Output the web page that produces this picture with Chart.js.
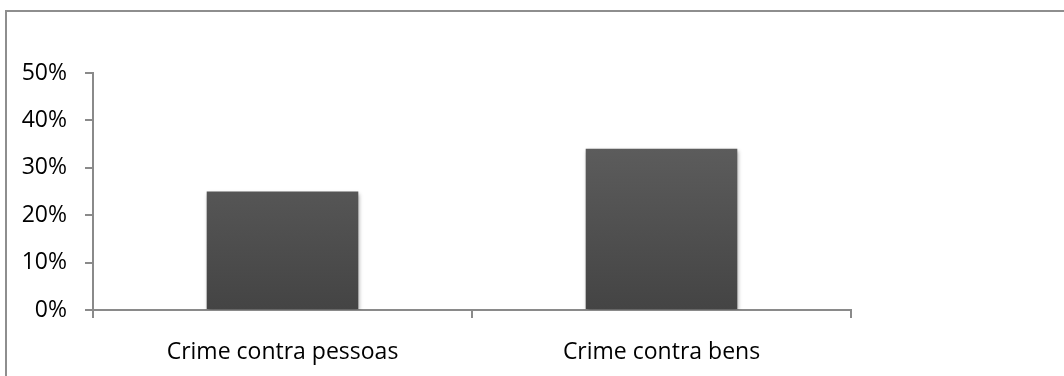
<!DOCTYPE html>
<html>
<head>
<meta charset="utf-8">
<script src="https://cdn.jsdelivr.net/npm/chart.js@4.4.1/dist/chart.umd.min.js"></script>
<style>
  html, body { margin: 0; padding: 0; background: #ffffff; overflow: hidden; }
  #wrap { position: relative; width: 1064px; height: 376px; }
  #frame {
    position: absolute; left: 5px; top: 10px; width: 1200px; height: 500px;
    border-left: 2px solid #8e8e8e; border-top: 2px solid #8e8e8e;
    pointer-events: none;
  }
  canvas { position: absolute; left: 0; top: 0; }
</style>
</head>
<body>
<div id="wrap">
  <div id="frame"></div>
  <canvas id="chart" width="1064" height="376"></canvas>
</div>
<script>
// Share of crimes by type (percent)
const categories = ['Crime contra pessoas', 'Crime contra bens'];
const shares = [25, 34];
const yTicks = [0, 10, 20, 30, 40, 50];

const axisColor = '#8a8a8a';
const labelFont = { family: '"Open Sans", Lato, sans-serif', size: 23 };

// Soft drop shadow behind the bars
const barShadow = {
  id: 'barShadow',
  beforeDatasetsDraw(chart) {
    const ctx = chart.ctx;
    ctx.save();
    ctx.shadowColor = 'rgba(0,0,0,0.35)';
    ctx.shadowBlur = 4;
    ctx.shadowOffsetX = 1;
    ctx.shadowOffsetY = 2;
  },
  afterDatasetsDraw(chart) {
    chart.ctx.restore();
  }
};

function barGradient(context) {
  const { chart } = context;
  const area = chart.chartArea;
  if (!area) return '#545454';
  const g = chart.ctx.createLinearGradient(0, area.top, 0, area.bottom);
  g.addColorStop(0, '#676767');
  g.addColorStop(1, '#444444');
  return g;
}

new Chart(document.getElementById('chart'), {
  type: 'bar',
  data: {
    labels: categories,
    datasets: [{
      data: shares,
      backgroundColor: barGradient,
      borderWidth: 0,
      categoryPercentage: 1,
      barPercentage: 0.4
    }]
  },
  options: {
    responsive: false,
    animation: false,
    events: [],
    layout: { padding: { top: 73, right: 213, left: 0, bottom: 0 } },
    plugins: { legend: { display: false }, tooltip: { enabled: false } },
    scales: {
      x: {
        z: 1,
        offset: true,
        grid: {
          offset: true,
          drawOnChartArea: false,
          drawTicks: true,
          tickLength: 8,
          color: axisColor,
          lineWidth: 2
        },
        border: { display: true, color: axisColor, width: 2 },
        ticks: { color: '#000000', font: labelFont, padding: 21, maxRotation: 0 },
        afterFit(scale) { scale.height = 66; }
      },
      y: {
        z: 1,
        min: 0,
        max: 50,
        afterBuildTicks(scale) { scale.ticks = yTicks.map(v => ({ value: v })); },
        grid: {
          drawOnChartArea: false,
          drawTicks: true,
          tickLength: 8,
          color: axisColor,
          lineWidth: 2
        },
        border: { display: true, color: axisColor, width: 2 },
        ticks: {
          color: '#000000',
          font: labelFont,
          padding: 18,
          callback: v => v + '%'
        },
        afterFit(scale) { scale.width = 93; }
      }
    }
  },
  plugins: [barShadow]
});
</script>
</body>
</html>
